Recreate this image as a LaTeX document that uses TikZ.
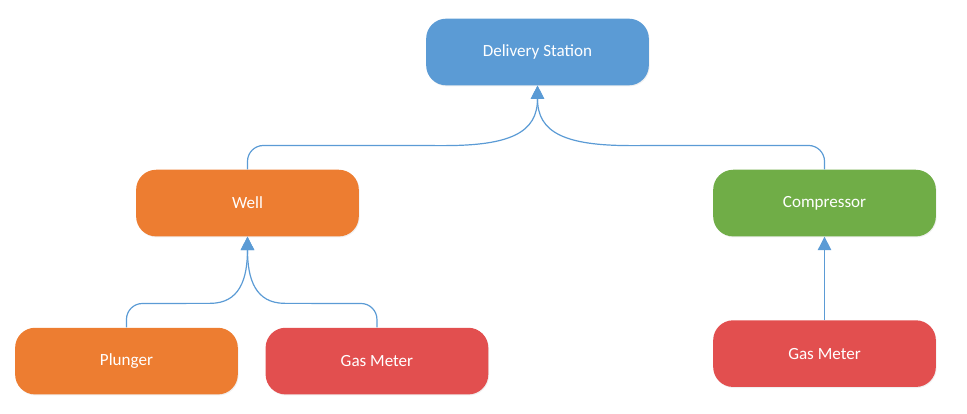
\documentclass[tikz,border=0pt]{standalone}
\usepackage{fontspec}
\setmainfont{Carlito}
\usepackage{xcolor}
\usepackage{tikz}
\usetikzlibrary{arrows.meta,positioning,shadows}

\definecolor{dsblue}{HTML}{5B9BD5}
\definecolor{wellorange}{HTML}{ED7D31}
\definecolor{compgreen}{HTML}{70AD47}
\definecolor{meterred}{HTML}{E24F4F}

\begin{document}
\begin{tikzpicture}[>={Triangle[length=10pt,width=10pt]}, font=\fontsize{12.8}{15}\selectfont]
                \tikzstyle{block} = [rectangle, rounded corners=15pt, minimum width=167pt, minimum height=50pt, text=white, drop shadow={opacity=0.12, shadow xshift=0.6pt, shadow yshift=-0.8pt}]
                \tikzstyle{link} = [->, draw=dsblue, line width=0.9pt]

                \useasboundingbox (-403.1pt,39pt) rectangle (322.1pt,-270.75pt);

                \node [block, fill=dsblue] (ds) {Delivery Station};
                \node [block, fill=wellorange, below = 62.9pt of ds, xshift=-217.5pt] (well) {Well};
                \node [block, fill=compgreen, below = 62.9pt of ds, xshift=215.25pt] (comp) {Compressor};
                \node [block, fill=wellorange, below = 68.1pt of well, xshift=-90.75pt] (plunger) {Plunger};
                \node [block, fill=meterred, below = 68.1pt of well, xshift=97.1pt] (meter-well) {Gas Meter};
                \node [block, fill=meterred, below = 62.5pt of comp] (meter-comp) {Gas Meter};

                \coordinate (ds-left) at ([xshift=-70pt, yshift=-45pt] ds.south);
                \coordinate (ds-right) at ([xshift=70pt, yshift=-45pt] ds.south);
                \coordinate (well-left) at ([xshift=-28pt, yshift=-50pt] well.south);
                \coordinate (well-right) at ([xshift=28pt, yshift=-50pt] well.south);

                \draw [link] (well.north) -- ++(0,6pt) to[out=90, in=180] ++(12pt,12pt) -- (ds-left) .. controls +(50pt,0) and +(0,-35pt) .. (ds.south);
                \draw [link] (comp.north) -- ++(0,6pt) to[out=90, in=0] ++(-12pt,12pt) -- (ds-right) .. controls +(-50pt,0) and +(0,-35pt) .. (ds.south);
                \draw [link] (plunger.north) -- ++(0,6pt) to[out=90, in=180] ++(12pt,12pt) -- (well-left) .. controls +(22pt,0) and +(0,-32pt) .. (well.south);
                \draw [link] (meter-well.north) -- ++(0,6pt) to[out=90, in=0] ++(-12pt,12pt) -- (well-right) .. controls +(-22pt,0) and +(0,-32pt) .. (well.south);
                \draw [link] (meter-comp) -- (comp);
\end{tikzpicture}
\end{document}
